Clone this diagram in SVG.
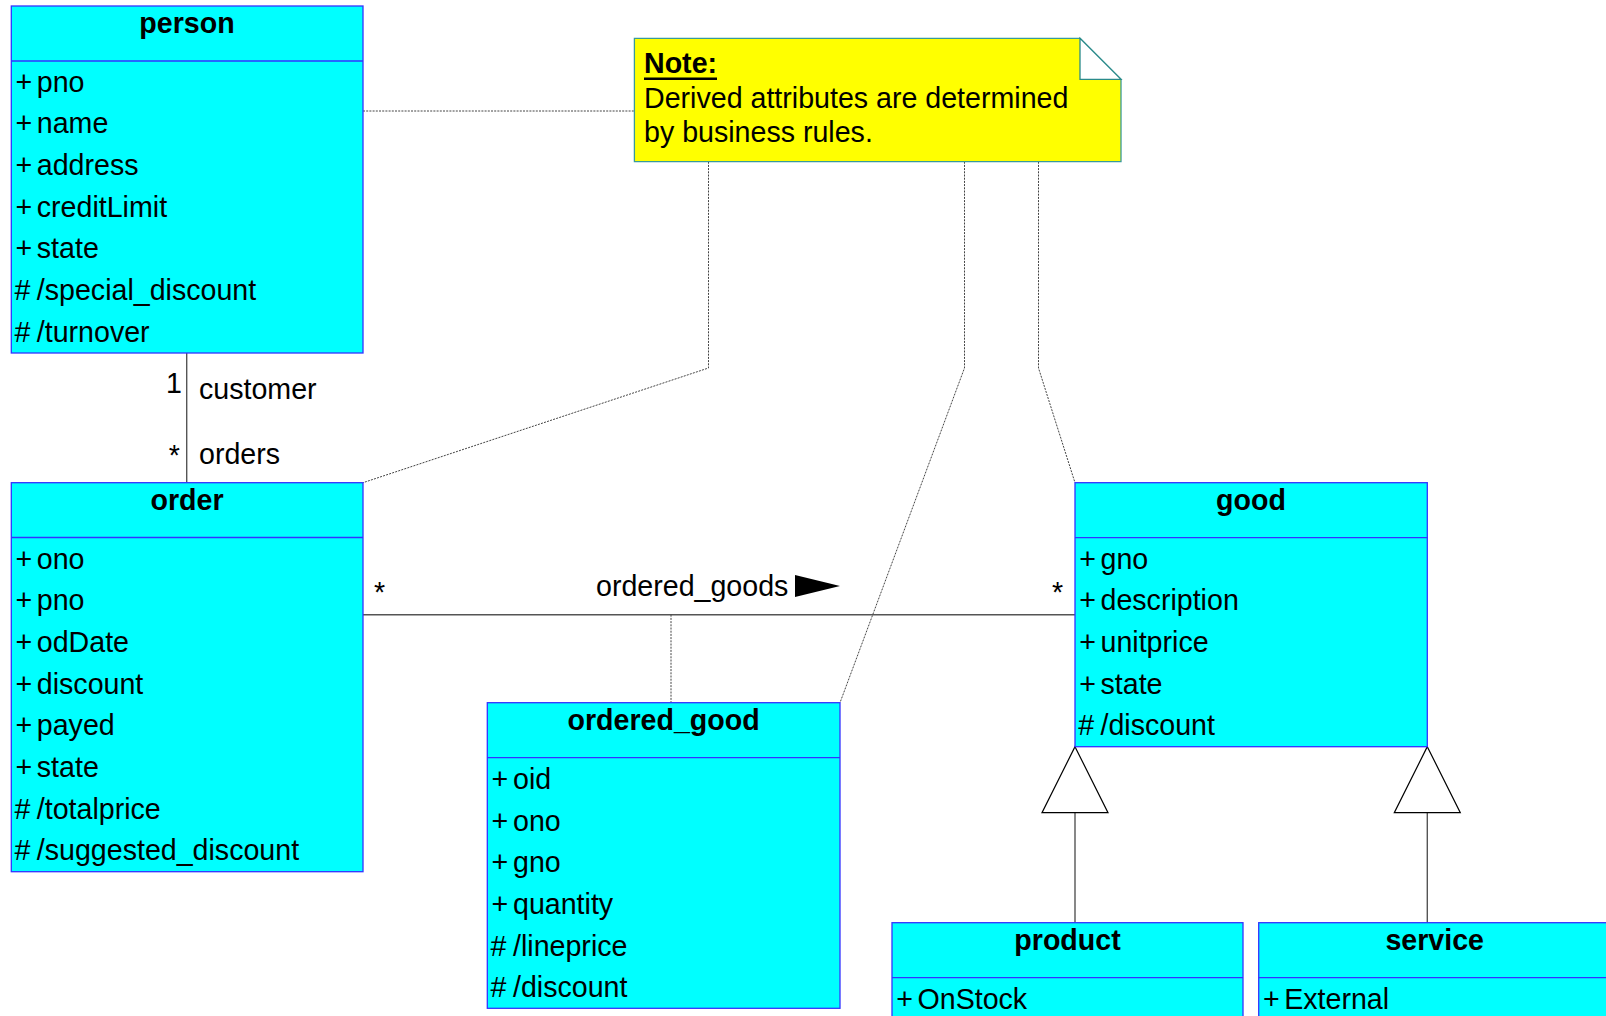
<svg xmlns="http://www.w3.org/2000/svg" width="1606" height="1016" viewBox="0 0 1606 1016">
<style>
  .box{fill:#00ffff;stroke:#3333ff;stroke-width:1.3}
  .sep{stroke:#3333ff;stroke-width:1.3}
  .t{font-family:"Liberation Sans",Arial,sans-serif;font-size:28.6px;fill:#000}
  .title{font-weight:bold;text-anchor:middle}
  .dot{fill:none;stroke:#444;stroke-width:1;stroke-dasharray:2 1.2}
  .sol{fill:none;stroke:#555;stroke-width:1.4}
</style>
<rect width="1606" height="1016" fill="#fff"/>

<g id="connectors">
  <path class="dot" d="M363,111 L634,111"/>
  <path class="dot" d="M708.5,161.7 L708.5,368 L363,482.7"/>
  <path class="dot" d="M964.5,161.7 L964.5,368 L840,702.7"/>
  <path class="dot" d="M1038.5,161.7 L1038.5,368 L1075,482.7"/>
  <path class="sol" d="M186.7,353 L186.7,482.7"/>
  <path class="sol" d="M363,614.7 L1075,614.7"/>
  <path class="dot" d="M671,614.7 L671,702.7"/>
  <polygon points="795,575 840,586 795,597" fill="#000"/>
  <path class="sol" d="M1075,812.7 L1075,922.7"/>
  <path class="sol" d="M1427.3,812.7 L1427.3,922.7"/>
  <polygon points="1075,746.7 1108,812.7 1042,812.7" fill="#fff" stroke="#000" stroke-width="1.2"/>
  <polygon points="1427.3,746.7 1460.3,812.7 1394.3,812.7" fill="#fff" stroke="#000" stroke-width="1.2"/>
  <text class="t" x="182" y="393" text-anchor="end">1</text>
  <text class="t" x="199" y="399">customer</text>
  <text class="t" x="180" y="465" text-anchor="end">*</text>
  <text class="t" x="199" y="464">orders</text>
  <text class="t" x="374" y="602">*</text>
  <text class="t" x="1052" y="602">*</text>
  <text class="t" x="596" y="596">ordered_goods</text>
</g>

<g id="note">
  <polygon points="634.4,38.3 1080,38.3 1121,79.3 1121,161.7 634.4,161.7" fill="#ffff00" stroke="#3a9a9a" stroke-width="1.3"/>
  <polygon points="1080,38.3 1121,79.3 1080,79.3" fill="#fff" stroke="#2a8a8a" stroke-width="1.3"/>
  <text class="t" x="644" y="73" font-weight="bold">Note:</text>
  <rect x="644" y="77.5" width="73" height="2.5" fill="#000"/>
  <text class="t" x="644" y="107.5">Derived attributes are determined</text>
  <text class="t" x="644" y="142">by business rules.</text>
</g>

<g id="person">
  <rect class="box" x="11.3" y="6" width="351.7" height="347"/>
  <line class="sep" x1="11.3" y1="61" x2="363" y2="61"/>
  <text class="t title" x="187" y="33">person</text>
  <text class="t" x="15.5" y="91.7">+</text><text class="t" x="36.8" y="91.7">pno</text>
  <text class="t" x="15.5" y="133.4">+</text><text class="t" x="36.8" y="133.4">name</text>
  <text class="t" x="15.5" y="175">+</text><text class="t" x="36.8" y="175">address</text>
  <text class="t" x="15.5" y="216.7">+</text><text class="t" x="36.8" y="216.7">creditLimit</text>
  <text class="t" x="15.5" y="258.4">+</text><text class="t" x="36.8" y="258.4">state</text>
  <text class="t" x="14.5" y="300">#</text><text class="t" x="36.8" y="300">/special_discount</text>
  <text class="t" x="14.5" y="341.7">#</text><text class="t" x="36.8" y="341.7">/turnover</text>
</g>

<g id="order">
  <rect class="box" x="11.3" y="482.7" width="351.7" height="389"/>
  <line class="sep" x1="11.3" y1="537.5" x2="363" y2="537.5"/>
  <text class="t title" x="187" y="510">order</text>
  <text class="t" x="15.5" y="568.5">+</text><text class="t" x="36.8" y="568.5">ono</text>
  <text class="t" x="15.5" y="610.2">+</text><text class="t" x="36.8" y="610.2">pno</text>
  <text class="t" x="15.5" y="651.8">+</text><text class="t" x="36.8" y="651.8">odDate</text>
  <text class="t" x="15.5" y="693.5">+</text><text class="t" x="36.8" y="693.5">discount</text>
  <text class="t" x="15.5" y="735.2">+</text><text class="t" x="36.8" y="735.2">payed</text>
  <text class="t" x="15.5" y="776.8">+</text><text class="t" x="36.8" y="776.8">state</text>
  <text class="t" x="14.5" y="818.5">#</text><text class="t" x="36.8" y="818.5">/totalprice</text>
  <text class="t" x="14.5" y="860.2">#</text><text class="t" x="36.8" y="860.2">/suggested_discount</text>
</g>

<g id="ordered_good">
  <rect class="box" x="487.3" y="702.7" width="352.7" height="305.6"/>
  <line class="sep" x1="487.3" y1="757.7" x2="840" y2="757.7"/>
  <text class="t title" x="663.6" y="730">ordered_good</text>
  <text class="t" x="491.5" y="789">+</text><text class="t" x="513" y="789">oid</text>
  <text class="t" x="491.5" y="830.7">+</text><text class="t" x="513" y="830.7">ono</text>
  <text class="t" x="491.5" y="872.3">+</text><text class="t" x="513" y="872.3">gno</text>
  <text class="t" x="491.5" y="914">+</text><text class="t" x="513" y="914">quantity</text>
  <text class="t" x="490.5" y="955.7">#</text><text class="t" x="513" y="955.7">/lineprice</text>
  <text class="t" x="490.5" y="997.3">#</text><text class="t" x="513" y="997.3">/discount</text>
</g>

<g id="good">
  <rect class="box" x="1075" y="482.7" width="352.3" height="264"/>
  <line class="sep" x1="1075" y1="537.7" x2="1427.3" y2="537.7"/>
  <text class="t title" x="1251" y="510">good</text>
  <text class="t" x="1079.2" y="568.7">+</text><text class="t" x="1100.5" y="568.7">gno</text>
  <text class="t" x="1079.2" y="610.3">+</text><text class="t" x="1100.5" y="610.3">description</text>
  <text class="t" x="1079.2" y="652">+</text><text class="t" x="1100.5" y="652">unitprice</text>
  <text class="t" x="1079.2" y="693.7">+</text><text class="t" x="1100.5" y="693.7">state</text>
  <text class="t" x="1078.2" y="735.3">#</text><text class="t" x="1100.5" y="735.3">/discount</text>
</g>

<g id="product">
  <rect class="box" x="892" y="922.7" width="351" height="120"/>
  <line class="sep" x1="892" y1="977.7" x2="1243" y2="977.7"/>
  <text class="t title" x="1067.5" y="950">product</text>
  <text class="t" x="896.2" y="1008.7">+</text><text class="t" x="917.5" y="1008.7">OnStock</text>
</g>

<g id="service">
  <rect class="box" x="1258.7" y="922.7" width="352" height="120"/>
  <line class="sep" x1="1258.7" y1="977.7" x2="1610" y2="977.7"/>
  <text class="t title" x="1434.7" y="950">service</text>
  <text class="t" x="1262.9" y="1008.7">+</text><text class="t" x="1284.2" y="1008.7">External</text>
</g>
</svg>
